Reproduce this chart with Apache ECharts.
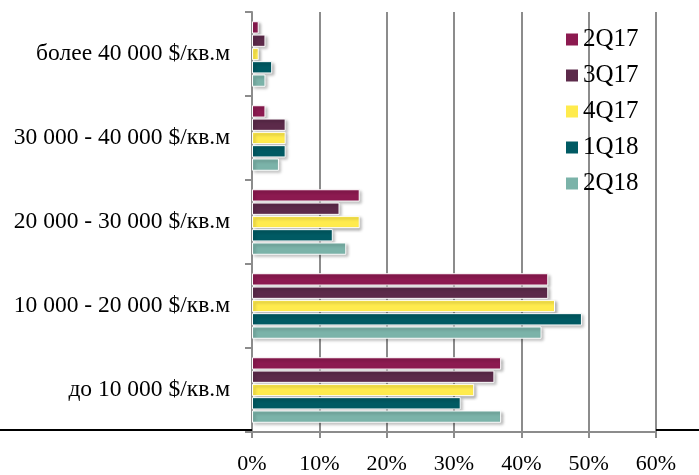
<!DOCTYPE html>
<html>
<head>
<meta charset="utf-8">
<script src="https://cdn.jsdelivr.net/npm/echarts@6/dist/echarts.min.js"></script>
<style>html,body{margin:0;padding:0;background:#fff;}#c{width:699px;height:475px;}</style>
</head>
<body>
<div id="c"></div>
<script>
var categories = ['до 10 000 $/кв.м', '10 000 - 20 000 $/кв.м', '20 000 - 30 000 $/кв.м', '30 000 - 40 000 $/кв.м', 'более 40 000 $/кв.м'];
var seriesNames = ['2Q17', '3Q17', '4Q17', '1Q18', '2Q18'];
var v2Q17 = [37, 44, 16, 2, 1];
var v3Q17 = [36, 44, 13, 5, 2];
var v4Q17 = [33, 45, 16, 5, 1];
var v1Q18 = [31, 49, 12, 5, 3];
var v2Q18 = [37, 43, 14, 4, 2];
var xTicks = [0, 10, 20, 30, 40, 50, 60];

var colors = {'2Q17': '#8C1A50', '3Q17': '#5C2A4A', '4Q17': '#FFEB4D', '1Q18': '#005A63', '2Q18': '#7BB3A9'};
var dataMap = {'2Q17': v2Q17, '3Q17': v3Q17, '4Q17': v4Q17, '1Q18': v1Q18, '2Q18': v2Q18};
var font = 'Liberation Serif';

var chart = echarts.init(document.getElementById('c'));
var series = seriesNames.map(function (n) {
  return {
    name: n, type: 'bar', data: dataMap[n],
    barCategoryGap: '22%', barGap: '8%',
    itemStyle: {
      color: colors[n], borderColor: '#fff', borderWidth: 1,
      shadowColor: 'rgba(0,0,0,0.3)', shadowBlur: 3, shadowOffsetX: 2, shadowOffsetY: 2
    }
  };
});
chart.setOption({
  animation: false,
  backgroundColor: '#fff',
  grid: {left: 252, right: 43, top: 12, bottom: 43, containLabel: false},
  legend: {
    data: seriesNames, orient: 'vertical', left: 561, top: 22,
    itemWidth: 12, itemHeight: 12, itemGap: 11, icon: 'rect',
    itemStyle: {borderWidth: 0, borderColor: 'transparent', shadowBlur: 0, shadowColor: 'transparent', shadowOffsetX: 0, shadowOffsetY: 0},
    textStyle: {fontFamily: font, fontSize: 25, color: '#000', lineHeight: 25}
  },
  xAxis: {
    type: 'value', min: xTicks[0], max: xTicks[xTicks.length - 1], interval: 10,
    axisLine: {show: true, lineStyle: {color: '#8c8c8c', width: 2}},
    axisTick: {show: true, length: 6, lineStyle: {color: '#8c8c8c', width: 2}},
    splitLine: {show: true, lineStyle: {color: '#8c8c8c', width: 2}},
    axisLabel: {fontFamily: font, fontSize: 22, color: '#000', margin: 21, formatter: '{value}%'}
  },
  yAxis: {
    type: 'category', data: categories,
    axisLine: {show: true, lineStyle: {color: '#8c8c8c', width: 2}},
    axisTick: {show: true, length: 7, lineStyle: {color: '#8c8c8c', width: 2}},
    axisLabel: {fontFamily: font, fontSize: 23.5, color: '#000', margin: 22}
  },
  graphic: [
    {type: 'line', shape: {x1: 0, y1: 430, x2: 252, y2: 430}, style: {stroke: '#000', lineWidth: 2}, z: 100},
    {type: 'line', shape: {x1: 656, y1: 430, x2: 699, y2: 430}, style: {stroke: '#000', lineWidth: 2}, z: 100}
  ],
  series: series
});
</script>
</body>
</html>
